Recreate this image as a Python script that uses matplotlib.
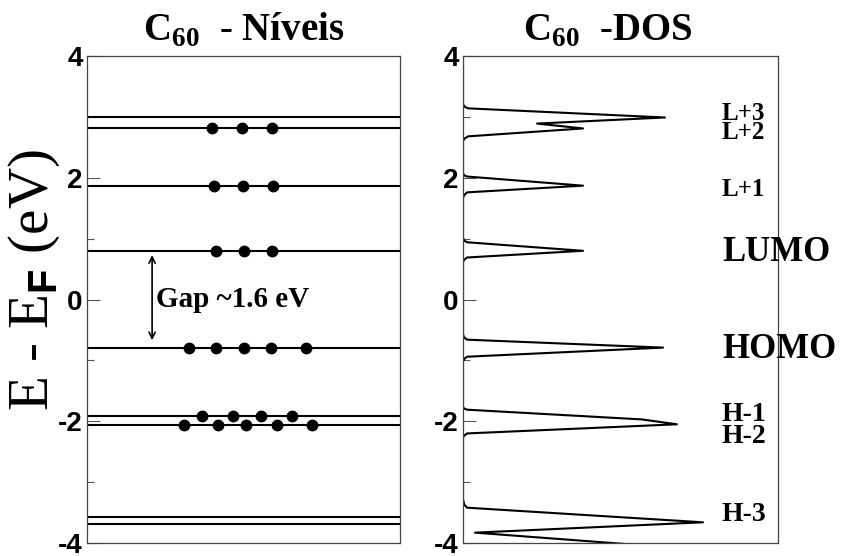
import matplotlib
matplotlib.use("Agg")
import matplotlib.pyplot as plt
from matplotlib.ticker import MultipleLocator

plt.rcParams['mathtext.fontset'] = 'custom'
plt.rcParams['mathtext.rm'] = 'Liberation Serif'
plt.rcParams['mathtext.bf'] = 'Liberation Serif:bold'
plt.rcParams['mathtext.sf'] = 'Liberation Sans:bold'
plt.rcParams['axes.unicode_minus'] = False

# ---- data ----
levels = [2.99, 2.81, 1.87, 0.80, -0.79, -1.92, -2.06, -3.58, -3.68]
dot_levels = [2.81, 1.87, 0.80, -0.79, -1.92, -2.06]
dot_x = [
    [3.99, 4.95, 5.91],
    [4.06, 4.98, 5.94],
    [4.12, 5.02, 5.91],
    [3.26, 4.12, 5.02, 5.88, 7.00],
    [3.67, 4.66, 5.56, 6.55],
    [3.10, 4.19, 5.08, 6.07, 7.19],
]
dos_energy = [4.0, 3.22, 3.17, 3.14, 2.99, 2.89, 2.81, 2.68, 2.64, 2.60,
              2.08, 2.04, 2.02, 1.87, 1.76, 1.71, 1.67,
              1.02, 0.97, 0.94, 0.80, 0.69, 0.65, 0.61,
              -0.57, -0.62, -0.66, -0.79, -0.94, -0.98, -1.02,
              -1.76, -1.79, -1.81, -1.97, -2.05, -2.20, -2.24, -2.27,
              -3.28, -3.37, -3.42, -3.66, -3.83, -4.10]
dos_value = [0.0, 0.0, 0.04, 0.16, 6.41, 2.35, 3.81, 0.16, 0.04, 0.0,
             0.0, 0.03, 0.13, 3.81, 0.13, 0.03, 0.0,
             0.0, 0.03, 0.13, 3.81, 0.13, 0.03, 0.0,
             0.0, 0.03, 0.13, 6.35, 0.13, 0.03, 0.0,
             0.0, 0.03, 0.13, 5.68, 6.79, 0.13, 0.03, 0.0,
             0.0, 0.04, 0.13, 7.62, 0.38, 7.30]
dos_labels = ["L+3", "L+2", "L+1", "LUMO", "HOMO", "H-1", "H-2", "H-3"]
dos_label_y = [3.06, 2.74, 1.81, 0.77, -0.82, -1.89, -2.25, -3.54]
dos_label_size = [18, 18, 18, 25, 25, 20, 20, 20]
gap_text = "Gap ~1.6 eV"
left_title = r"C$_{\mathbf{60}}$  - Níveis"
right_title = r"C$_{\mathbf{60}}$  -DOS"
ylabel = r"E - E$_\mathsf{F}$ (eV)"
yticks = [-4, -2, 0, 2, 4]

fig = plt.figure(figsize=(8.43, 5.56), dpi=100)
ax1 = fig.add_axes([87/843, 13/556, 313/843, 487/556])
ax2 = fig.add_axes([463/843, 13/556, 315/843, 487/556])

serif = 'Liberation Serif'
sans = 'Liberation Sans'

for ax in (ax1, ax2):
    ax.set_ylim(-4, 4)
    ax.set_xlim(0, 10)
    ax.set_xticks([])
    ax.set_yticks(yticks)
    ax.yaxis.set_minor_locator(MultipleLocator(1))
    ax.tick_params(axis='y', which='major', direction='in', length=9.5,
                   width=0.8, color='#555555', pad=3)
    ax.tick_params(axis='y', which='minor', direction='in', length=5,
                   width=0.8, color='#555555')
    for lab in ax.get_yticklabels():
        lab.set_fontfamily(sans)
        lab.set_fontweight('bold')
        lab.set_fontsize(20)
    for sp in ax.spines.values():
        sp.set_linewidth(0.9)
        sp.set_color('#444444')

# left panel: levels
for lv in levels:
    ax1.axhline(lv, color='black', lw=1.5)
for lv, xs in zip(dot_levels, dot_x):
    ax1.plot(xs, [lv] * len(xs), 'o', color='black', ms=7.5, clip_on=False)

ax1.annotate('', xy=(2.08, -0.67), xytext=(2.08, 0.73),
             arrowprops=dict(arrowstyle='<->,head_length=0.45,head_width=0.22',
                             color='black', lw=1.2, shrinkA=0, shrinkB=0))
ax1.text(2.2, 0.0, gap_text, fontfamily=serif, fontweight='bold',
         fontsize=21, va='center', ha='left')

ax1.text(0.5, 1.012, left_title, transform=ax1.transAxes, fontfamily=serif,
         fontweight='bold', fontsize=28, ha='center', va='bottom')
fig.text(34/843, 1 - 280/556, ylabel, rotation=90, fontfamily=serif,
         fontsize=41, ha='center', va='center')

# right panel: DOS
ax2.plot(dos_value, dos_energy, color='black', lw=1.5)
for t, y, s in zip(dos_labels, dos_label_y, dos_label_size):
    ax2.text(8.22, y, t, fontfamily=serif, fontweight='bold', fontsize=s,
             va='center', ha='left', clip_on=False)
ax2.text(0.46, 1.012, right_title, transform=ax2.transAxes, fontfamily=serif,
         fontweight='bold', fontsize=28, ha='center', va='bottom')

fig.savefig('out.png', dpi=100)
